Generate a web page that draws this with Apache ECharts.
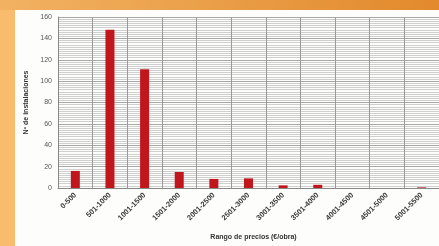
<!DOCTYPE html>
<html>
<head>
<meta charset="UTF-8">
<title></title>
<style type="text/css">
	* {margin: 0; padding: 0;}
	body {background: #F8BC6C;}
	#chart {width: 439px; height: 246px;}
</style>
<script src="https://cdn.jsdelivr.net/npm/echarts@6/dist/echarts.min.js"></script>
</head>
<body>
<div id="chart"></div>
<script type="text/javascript">
	var rangos = ['0-500', '501-1000', '1001-1500', '1501-2000', '2001-2500', '2501-3000',
		'3001-3500', '3501-4000', '4001-4500', '4501-5000', '5001-5500'];
	var instalaciones = [16, 148, 111, 15, 8.5, 9, 2.5, 3, 0, 0, 0.6];
	var yTicks = [0, 20, 40, 60, 80, 100, 120, 140, 160];

	var chart = echarts.init(document.getElementById('chart'));

	var option = {
		backgroundColor: '#F8BC6C',
		animation: false,
		textStyle: {fontFamily: 'Liberation Sans'},
		graphic: [
			{
				type: 'rect', z: -10, silent: true,
				shape: {x: 0, y: 0, width: 439, height: 10},
				style: {fill: new echarts.graphic.LinearGradient(0, 0, 1, 0, [
					{offset: 0, color: '#F2B262'},
					{offset: 1, color: '#E2892C'}
				])}
			},
			{
				type: 'rect', z: -10, silent: true,
				shape: {x: 15, y: 10, width: 424, height: 236},
				style: {fill: '#FDFDFC'}
			}
		],
		grid: {left: 58, right: -6, top: 17, bottom: 57},
		xAxis: {
			type: 'category',
			data: rangos,
			name: 'Rango de precios (€/obra)',
			nameLocation: 'middle',
			nameGap: 46,
			nameTextStyle: {fontSize: 7, fontWeight: 'bold', color: '#333', padding: [0, 0, 0, 10]},
			axisLine: {lineStyle: {color: '#888'}},
			axisTick: {show: false},
			axisLabel: {rotate: 45, fontSize: 7.5, fontWeight: 'bold', color: '#3a3a3a', interval: 0, margin: 6},
			splitLine: {show: true, interval: 0, lineStyle: {color: '#9a9a9a', width: 1}}
		},
		yAxis: {
			type: 'value',
			min: 0,
			max: 160,
			interval: 20,
			name: 'Nº de instalaciones',
			nameLocation: 'middle',
			nameGap: 26,
			nameTextStyle: {fontSize: 7, fontWeight: 'bold', color: '#333'},
			axisLine: {show: true, lineStyle: {color: '#888'}},
			axisTick: {show: false},
			axisLabel: {
				fontSize: 7, color: '#555', margin: 6,
				formatter: function (v) { return yTicks.indexOf(v) >= 0 ? String(v) : ''; }
			},
			splitLine: {lineStyle: {color: '#a8a8a8', width: 1}},
			minorTick: {show: false, splitNumber: 10},
			minorSplitLine: {show: true, lineStyle: {color: '#cfcfcf', width: 1}}
		},
		series: [
			{
				type: 'bar',
				data: instalaciones,
				barWidth: 9,
				itemStyle: {color: '#C0161C'}
			}
		]
	};

	chart.setOption(option);
</script>
</body>
</html>
